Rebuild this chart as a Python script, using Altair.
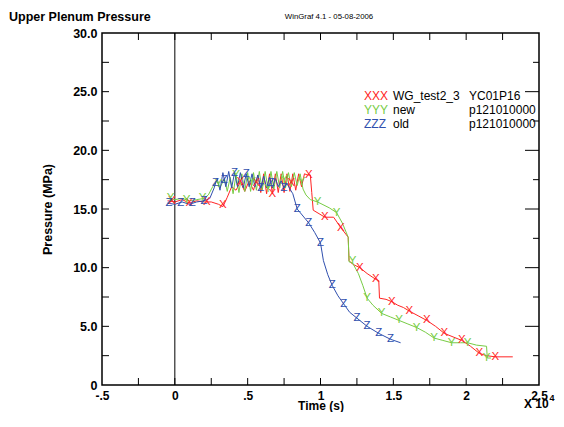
import altair as alt
import pandas as pd

# ---------------- data (time in units of 1e4 s, pressure in MPa) ----------------
red_t = [-0.05, 0.0, 0.05, 0.10, 0.15, 0.20, 0.25, 0.30, 0.33, 0.36,
         0.39, 0.42, 0.45, 0.48, 0.51, 0.54, 0.57, 0.59, 0.61, 0.63,
         0.65, 0.67, 0.69, 0.71, 0.73, 0.75, 0.77, 0.79, 0.81, 0.83,
         0.85, 0.87, 0.89, 0.91, 0.93, 0.94, 0.95, 0.99, 1.03, 1.09,
         1.14, 1.19, 1.196, 1.22, 1.27, 1.32, 1.38, 1.40, 1.405, 1.45,
         1.49, 1.53, 1.57, 1.61, 1.67, 1.73, 1.79, 1.85, 1.91, 1.97,
         2.03, 2.09, 2.14, 2.20, 2.32]
red_p = [15.7, 15.6, 15.8, 15.5, 15.7, 15.6, 15.6, 15.4, 15.2, 16.0,
         16.9, 16.6, 17.3, 16.5, 17.4, 16.6, 17.9, 16.4, 18.0, 16.3,
         18.0, 16.3, 18.0, 16.4, 18.0, 16.4, 18.0, 16.5, 18.0, 16.6,
         18.0, 16.9, 18.0, 17.9, 17.9, 16.4, 14.9, 14.6, 14.3, 14.3,
         13.4, 12.6, 10.6, 10.3, 10.0, 9.5, 9.0, 8.9, 7.4, 7.3,
         7.1, 6.8, 6.6, 6.3, 5.9, 5.5, 5.0, 4.4, 4.1, 3.8,
         3.3, 2.7, 2.5, 2.4, 2.4]
red_mark_t = [-0.02, 0.10, 0.22, 0.33, 0.45, 0.56, 0.67, 0.80, 0.92, 1.03,
              1.14, 1.27, 1.38, 1.49, 1.61, 1.73, 1.85, 1.97, 2.09, 2.20]
red_mark_p = [15.7, 15.5, 15.6, 15.3, 17.3, 17.2, 16.3, 17.2, 17.9, 14.3,
              13.4, 10.0, 9.0, 7.1, 6.3, 5.5, 4.4, 3.8, 2.7, 2.4]

green_t = [-0.05, 0.0, 0.05, 0.10, 0.15, 0.20, 0.23, 0.26, 0.29, 0.31,
           0.34, 0.36, 0.38, 0.40, 0.42, 0.44, 0.46, 0.48, 0.50, 0.52,
           0.54, 0.56, 0.58, 0.60, 0.62, 0.64, 0.66, 0.68, 0.70, 0.72,
           0.74, 0.76, 0.78, 0.80, 0.82, 0.84, 0.86, 0.88, 0.90, 0.93,
           0.98, 1.06, 1.11, 1.15, 1.19, 1.196, 1.22, 1.26, 1.29, 1.32,
           1.36, 1.42, 1.48, 1.54, 1.60, 1.66, 1.72, 1.78, 1.84, 1.90,
           1.96, 2.01, 2.07, 2.14, 2.145, 2.17]
green_p = [15.9, 15.8, 15.9, 15.7, 15.8, 15.9, 16.2, 16.9, 17.4, 16.8,
           17.6, 16.5, 17.7, 16.3, 17.9, 16.4, 18.0, 16.5, 18.1, 16.5,
           18.1, 16.6, 18.2, 16.6, 18.2, 16.7, 18.2, 16.7, 18.2, 16.8,
           18.2, 16.8, 18.1, 16.9, 18.1, 17.0, 18.0, 16.7, 16.2, 15.8,
           15.6, 15.1, 14.7, 13.8, 12.6, 10.5, 10.4, 9.5, 8.5, 7.4,
           6.8, 6.1, 5.8, 5.5, 5.2, 4.9, 4.5, 4.0, 3.8, 3.6,
           3.6, 3.6, 3.4, 3.3, 2.3, 2.3]
green_mark_t = [-0.03, 0.08, 0.19, 0.30, 0.42, 0.53, 0.64, 0.75, 0.87, 0.98,
                1.11, 1.22, 1.32, 1.42, 1.54, 1.66, 1.78, 1.90, 2.01, 2.14]
green_mark_p = [15.9, 15.8, 15.9, 17.1, 17.9, 17.3, 16.7, 17.5, 17.3, 15.6,
                14.7, 10.6, 7.4, 6.1, 5.5, 4.9, 4.0, 3.6, 3.6, 2.3]

blue_t = [-0.05, 0.0, 0.05, 0.10, 0.15, 0.20, 0.24, 0.27, 0.29, 0.31,
          0.33, 0.35, 0.37, 0.39, 0.41, 0.43, 0.45, 0.47, 0.49, 0.51,
          0.53, 0.55, 0.57, 0.59, 0.61, 0.63, 0.65, 0.67, 0.69, 0.71,
          0.73, 0.75, 0.77, 0.79, 0.81, 0.84, 0.88, 0.92, 0.96, 1.00,
          1.02, 1.05, 1.08, 1.12, 1.16, 1.20, 1.25, 1.32, 1.40, 1.48, 1.55]
blue_p = [15.5, 15.4, 15.6, 15.4, 15.6, 15.7, 15.9, 16.8, 17.6, 16.6,
          18.1, 16.9, 18.2, 16.8, 18.1, 16.9, 18.1, 16.8, 18.0, 16.9,
          18.0, 16.9, 17.9, 16.8, 17.8, 16.8, 17.7, 16.8, 17.6, 16.9,
          17.4, 16.8, 17.2, 16.7, 16.3, 15.0, 14.4, 13.8, 13.0, 12.1,
          10.6, 9.4, 8.5, 7.6, 6.9, 6.2, 5.7, 5.0, 4.4, 3.9, 3.6]
blue_mark_t = [-0.04, 0.04, 0.12, 0.20, 0.28, 0.34, 0.41, 0.49, 0.59, 0.66,
               0.75, 0.84, 0.92, 1.00, 1.08, 1.16, 1.25, 1.32, 1.40, 1.48]
blue_mark_p = [15.5, 15.5, 15.5, 15.7, 17.2, 17.5, 18.1, 18.0, 16.8, 17.2,
               16.8, 15.0, 13.8, 12.1, 8.5, 6.9, 5.7, 5.0, 4.4, 3.9]

legend_syms = ["XXX", "YYY", "ZZZ"]
legend_names = ["WG_test2_3", "new", "old"]
legend_ids = ["YC01P16", "p121010000", "p121010000"]
marker_syms = ["X", "Y", "Z"]
colors = ["#ff2424", "#77cc44", "#2f4fae"]

x_label_values = [-0.5, 0, 0.5, 1, 1.5, 2, 2.5]
x_tick_values = [-0.25, 0, 0.25, 0.5, 0.75, 1, 1.25, 1.5, 1.75, 2, 2.25]
y_label_values = [0, 5, 10, 15, 20, 25, 30]
y_tick_values = [2.5, 5, 7.5, 10, 12.5, 15, 17.5, 20, 22.5, 25, 27.5]
y_major_values = [5, 10, 15, 20, 25]
y_minor_values = [2.5, 7.5, 12.5, 17.5, 22.5, 27.5]

# ---------------- layout ----------------
W, H = 437, 352
FONT = "Liberation Sans"
TICK = 7

xs = alt.Scale(domain=[-0.5, 2.5], nice=False, zero=False)
ys = alt.Scale(domain=[0, 30], nice=False, zero=False)

x_axis = alt.Axis(
    values=x_label_values,
    labelExpr="datum.value == -0.5 ? '-.5' : (datum.value == 0.5 ? '.5' : format(datum.value, '~g'))",
    ticks=False, domain=False, grid=False, labelFlush=False,
    labelFont=FONT, labelFontSize=12, labelFontWeight="bold", labelColor="black",
    labelPadding=5,
    titleFont=FONT, titleFontSize=12, titleFontWeight="bold", titleColor="black",
    titleY=20, titleBaseline="middle",
)
y_axis = alt.Axis(
    values=y_label_values,
    labelExpr="datum.value == 0 ? '0' : format(datum.value, '.1f')",
    ticks=False, domain=False, grid=False, labelFlush=False,
    labelFont=FONT, labelFontSize=12.5, labelFontWeight="bold", labelColor="black",
    labelPadding=5,
    titleFont=FONT, titleFontSize=12.5, titleFontWeight="bold", titleColor="black",
    titlePadding=18,
)


def X(field, axes=False):
    if axes:
        return alt.X(field, scale=xs, axis=x_axis, title="Time (s)")
    return alt.X(field, scale=xs)


def Y(field, axes=False):
    if axes:
        return alt.Y(field, scale=ys, axis=y_axis, title="Pressure (MPa)")
    return alt.Y(field, scale=ys)


def line_layer(ts, ps, color, axes=False):
    df = pd.DataFrame({"t": ts, "p": ps, "i": list(range(len(ts)))})
    return alt.Chart(df).mark_line(color=color, strokeWidth=1).encode(
        x=X("t:Q", axes), y=Y("p:Q", axes), order=alt.Order("i:Q"))


def marker_layer(ts, ps, sym, color):
    df = pd.DataFrame({"t": ts, "p": ps, "s": [sym] * len(ts)})
    return alt.Chart(df).mark_text(
        font=FONT, fontSize=11.5, color=color, align="center", baseline="middle"
    ).encode(x=X("t:Q"), y=Y("p:Q"), text="s:N")


one = pd.DataFrame({"a": [0]})


def label(txt, x, y, size, color="black", weight="normal", align="left"):
    return alt.Chart(one).mark_text(
        text=txt, font=FONT, fontSize=size, fontWeight=weight, color=color,
        align=align, baseline="middle"
    ).encode(x=alt.value(x), y=alt.value(y))


# tick marks (inward) along the frame
xt = pd.DataFrame({"t": x_tick_values})
ymaj = pd.DataFrame({"p": y_major_values})
ymin = pd.DataFrame({"p": y_minor_values})
yt = pd.DataFrame({"p": y_tick_values})

ticks_bottom = alt.Chart(xt).mark_rule(color="black", strokeWidth=1).encode(
    x=X("t:Q"), y=alt.value(H), y2=alt.value(H - TICK))
ticks_top = alt.Chart(xt).mark_rule(color="black", strokeWidth=1).encode(
    x=X("t:Q"), y=alt.value(0), y2=alt.value(TICK))
ticks_left = alt.Chart(yt).mark_rule(color="black", strokeWidth=1).encode(
    y=Y("p:Q"), x=alt.value(0), x2=alt.value(TICK))
ticks_right_major = alt.Chart(ymaj).mark_rule(color="black", strokeWidth=1).encode(
    y=Y("p:Q"), x=alt.value(W), x2=alt.value(W - 14))
ticks_right_minor = alt.Chart(ymin).mark_rule(color="black", strokeWidth=1).encode(
    y=Y("p:Q"), x=alt.value(W), x2=alt.value(W - 6))

zero_line = alt.Chart(pd.DataFrame({"t": [0]})).mark_rule(color="black", strokeWidth=1).encode(
    x=X("t:Q"), y=alt.value(0), y2=alt.value(H))

layers = [
    line_layer(red_t, red_p, colors[0], axes=True),
    ticks_bottom, ticks_top, ticks_left, ticks_right_major, ticks_right_minor,
    zero_line,
    line_layer(green_t, green_p, colors[1]),
    line_layer(blue_t, blue_p, colors[2]),
    marker_layer(red_mark_t, red_mark_p, marker_syms[0], colors[0]),
    marker_layer(green_mark_t, green_mark_p, marker_syms[1], colors[1]),
    marker_layer(blue_mark_t, blue_mark_p, marker_syms[2], colors[2]),
]

# legend inside the plot
for k in range(3):
    yy = 63 + 14 * k
    layers.append(label(legend_syms[k], 262, yy, 12, color=colors[k]))
    layers.append(label(legend_names[k], 291, yy, 12))
    layers.append(label(legend_ids[k], 367, yy, 12))

# header texts and exponent
layers.append(label("Upper Plenum Pressure", -93, -16, 12.5, weight="bold"))
layers.append(label("WinGraf 4.1 - 05-08-2006", 227, -16, 7.8, align="center"))
layers.append(label("X 10", 422, 371, 12, weight="bold"))
layers.append(label("4", 447.5, 365, 9, weight="bold"))

chart = alt.layer(*layers).properties(
    width=W, height=H,
    padding={"left": 94, "top": 25, "right": 17, "bottom": 27},
    autosize=alt.AutoSizeParams(type="none"),
    background="white",
).configure_view(stroke="black", strokeWidth=1.5)

chart.save("out.html", embed_options={"renderer": "svg", "actions": False})
